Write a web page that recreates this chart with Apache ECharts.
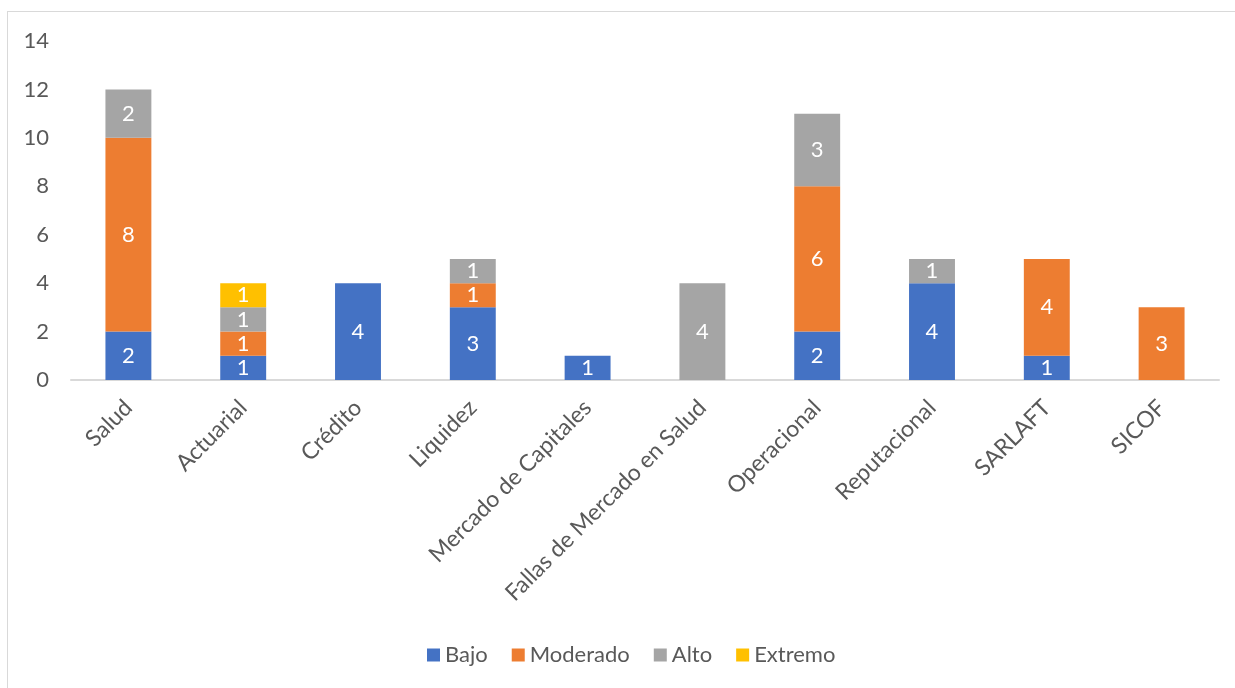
<!DOCTYPE html>
<html><head><meta charset="utf-8">
<script src="https://cdn.jsdelivr.net/npm/echarts@6/dist/echarts.min.js"></script>
<style>
html,body{margin:0;padding:0;background:#fff;}
#frame{position:absolute;left:7px;top:11px;width:1240px;height:690px;border:1px solid #d9d9d9;box-sizing:border-box;}
#c{position:absolute;left:0;top:0;width:1235px;height:688px;}
</style></head>
<body>
<div id="frame"></div>
<div id="c"></div>
<script>
const categories = ['Salud','Actuarial','Crédito','Liquidez','Mercado de Capitales','Fallas de Mercado en Salud','Operacional','Reputacional','SARLAFT','SICOF'];
const bajo     = [2,1,4,3,1,0,2,4,1,0];
const moderado = [8,1,0,1,0,0,6,0,4,3];
const alto     = [2,1,0,1,0,4,3,1,0,0];
const extremo  = [0,1,0,0,0,0,0,0,0,0];
const yTicks = [0,2,4,6,8,10,12,14];

const FONT = 'Lato, "Open Sans", sans-serif';
function mk(name, data, color){
  return {name, type:'bar', stack:'total', data, barWidth:'40%',
    itemStyle:{color},
    label:{show:true, position:'inside', color:'#fff', fontSize:22, fontFamily:FONT,
      formatter:p=>p.value?String(p.value):''}};
}
const chart = echarts.init(document.getElementById('c'));
chart.setOption({
  animation:false,
  textStyle:{fontFamily:FONT},
  grid:{left:71,right:16,top:41,bottom:308,containLabel:false},
  legend:{bottom:17, left:422, itemWidth:13, itemHeight:13, itemGap:24, icon:'rect',
    textStyle:{fontSize:22,color:'#595959',fontFamily:FONT},
    data:['Bajo','Moderado','Alto','Extremo']},
  xAxis:{type:'category', data:categories,
    axisLine:{lineStyle:{color:'#d9d9d9',width:2}}, axisTick:{show:false},
    axisLabel:{rotate:45, interval:0, color:'#595959', fontSize:23, fontFamily:FONT, margin:24}},
  yAxis:{type:'value', min:yTicks[0], max:yTicks[yTicks.length-1], interval:2,
    splitLine:{show:false}, axisLine:{show:false}, axisTick:{show:false},
    axisLabel:{color:'#595959', fontSize:22, fontFamily:FONT, margin:22}},
  series:[mk('Bajo',bajo,'#4472c4'), mk('Moderado',moderado,'#ed7d31'), mk('Alto',alto,'#a5a5a5'), mk('Extremo',extremo,'#ffc000')]
});
</script>
</body></html>
